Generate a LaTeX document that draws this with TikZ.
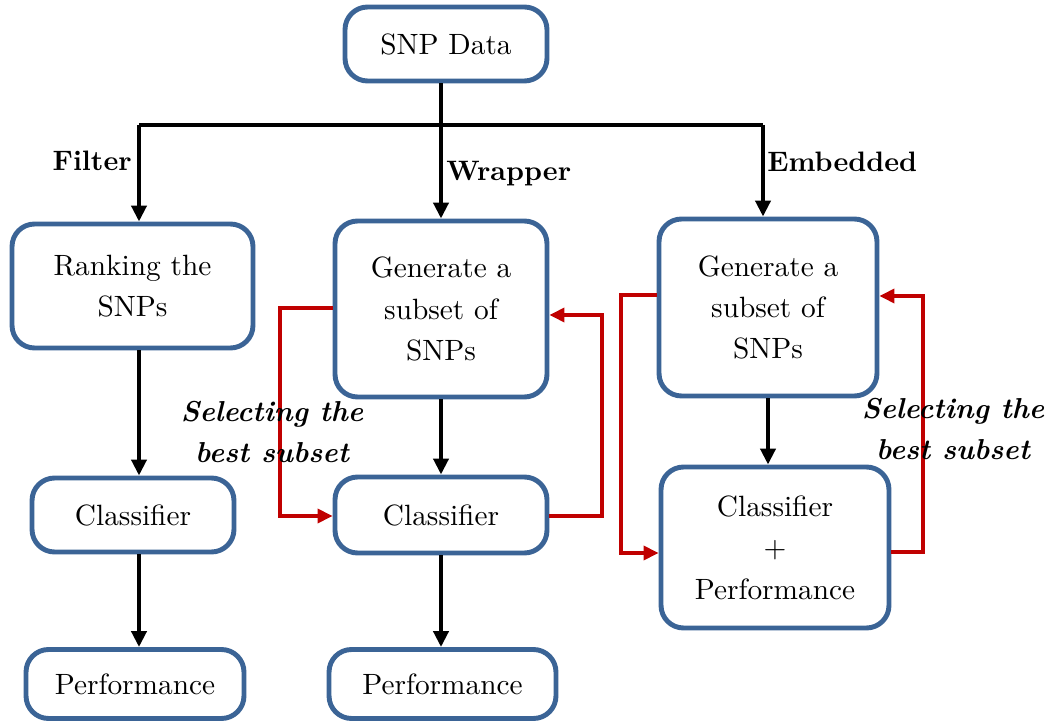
\documentclass[tikz,border=0pt]{standalone}
\usetikzlibrary{arrows.meta}
\definecolor{boxblue}{HTML}{3B6496}
\definecolor{loopred}{HTML}{C00000}
% Latin Modern at its 10pt design, set large
\font\boxrm="[lmroman10-regular]:mapping=tex-text" at 16.7pt
\font\labbf="[lmroman10-bold]:mapping=tex-text" at 16pt
\font\labbi="[lmroman10-bolditalic]:mapping=tex-text" at 16.4pt
\begin{document}
\begin{tikzpicture}[x=0.02cm,y=-0.02cm,
  font=\fontsize{16.7}{23.6}\selectfont\boxrm,
  box/.style={draw=boxblue,line width=2.8pt,rounded corners=0.45cm,align=center,fill=white,inner sep=2pt},
  arr/.style={line width=2.3pt,-{Triangle[length=0.32cm,width=0.3cm]}},
  bus/.style={line width=2.3pt},
  loop/.style={draw=loopred,line width=2pt,-{Triangle[length=0.3cm,width=0.28cm]}},
  lab/.style={font=\fontsize{16}{24}\selectfont\labbf},
  sel/.style={font=\fontsize{16.4}{23.4}\selectfont\labbi,align=center}]
\useasboundingbox (0,0) rectangle (1054,722);

% boxes
\node[box,minimum width=4.04cm,minimum height=1.48cm] (data) at (446,44) {SNP Data};
\node[box,minimum width=4.82cm,minimum height=2.48cm] (rank) at (132.5,286) {Ranking the\\SNPs};
\node[box,minimum width=4.04cm,minimum height=1.48cm] (clsL) at (133,515) {Classifier};
\node[box,minimum width=4.36cm,minimum height=1.38cm] (perfL) at (135,684) {Performance};
\node[box,minimum width=4.24cm,minimum height=3.52cm] (genM) at (441,309) {Generate a\\subset of\\SNPs};
\node[box,minimum width=4.24cm,minimum height=1.52cm] (clsM) at (441,515) {Classifier};
\node[box,minimum width=4.54cm,minimum height=1.38cm] (perfM) at (442.5,684) {Performance};
\node[box,minimum width=4.36cm,minimum height=3.54cm] (genR) at (768,307.5) {Generate a\\subset of\\SNPs};
\node[box,minimum width=4.56cm,minimum height=3.22cm] (cpR) at (775,547.5) {Classifier\\+\\Performance};

% branching from the data box
\coordinate (busL) at (139,125);
\coordinate (busR) at (763,125);
\draw[bus] (busL) -- (busR);
\draw[arr] (genM.north |- data.south) -- (genM.north);
\draw[arr] (busL) -- (busL |- rank.north);
\draw[arr] (busR) -- (busR |- genR.north);

% vertical flow
\draw[arr] (busL |- rank.south) -- (busL |- clsL.north);
\draw[arr] (busL |- clsL.south) -- (busL |- perfL.north);
\draw[arr] (genM.south) -- (clsM.north);
\draw[arr] (clsM.south) -- (clsM.south |- perfM.north);
\draw[arr] (genR.south) -- (genR.south |- cpR.north);

% feedback loops
\draw[loop] (genM.west |- 0,308) -- (280,308) -- (280,516) -- (clsM.west |- 0,516);
\draw[loop] (clsM.east |- 0,516) -- (602,516) -- (602,315) -- (genM.east |- 0,315);
\draw[loop] (genR.west |- 0,295) -- (621,295) -- (621,553) -- (cpR.west |- 0,553);
\draw[loop] (cpR.east |- 0,552) -- (923,552) -- (923,296) -- (genR.east |- 0,296);

% labels
\node[lab,anchor=east,inner sep=0pt] (lfilter) at (132,161) {Filter};
\node[lab,anchor=west,inner sep=0pt] (lwrap) at (446,174) {Wrapper};
\node[lab,anchor=west,inner sep=0pt] (lemb) at (767,162) {Embedded};
\node[sel] (selM) at (272,432) {Selecting the\\best subset};
\node[sel] (selR) at (953,429) {Selecting the\\best subset};
\end{tikzpicture}
\end{document}
